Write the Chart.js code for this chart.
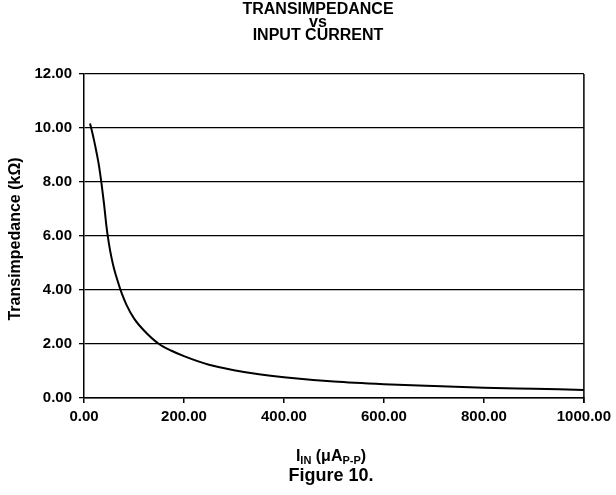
<!DOCTYPE html>
<html><head><meta charset="utf-8">
<script src="https://cdn.jsdelivr.net/npm/chart.js@4.4.1/dist/chart.umd.min.js"></script>
<style>html,body{margin:0;padding:0;background:#fff;} #wrap{width:616px;height:495px;}</style>
</head><body><div id="wrap"><canvas id="c" width="616" height="495"></canvas></div>
<script>
// Data
const inputCurrent = [12, 15, 20, 25, 30, 35, 40, 45, 50, 55, 60, 67, 75, 85, 100, 120, 150, 175, 200, 250, 300, 350, 400, 500, 600, 700, 800, 900, 1000];
const transimpedance = [10.17, 9.95, 9.55, 9.1, 8.6, 7.95, 7.2, 6.35, 5.7, 5.2, 4.8, 4.35, 3.9, 3.45, 2.95, 2.5, 2.0, 1.75, 1.55, 1.23, 1.03, 0.88, 0.77, 0.61, 0.51, 0.44, 0.38, 0.34, 0.30];
const xTickValues = [0, 200, 400, 600, 800, 1000];
const yTickValues = [0, 2, 4, 6, 8, 10, 12];
const titleLines = ['TRANSIMPEDANCE', 'vs', 'INPUT CURRENT'];
const yAxisTitle = 'Transimpedance (kΩ)';
const xAxisTitleParts = [['I', false], ['IN', true], [' (μA', false], ['P-P', true], [')', false]];
const figureCaption = 'Figure 10.';

const FONT = '"Liberation Sans", Arial, sans-serif';

const points = inputCurrent.map((x, i) => ({ x: x, y: transimpedance[i] }));

const decor = {
  id: 'decor',
  afterDraw(chart) {
    const ctx = chart.ctx;
    const a = chart.chartArea;
    ctx.save();
    // right border of plot
    ctx.strokeStyle = '#000';
    ctx.lineWidth = 1.5;
    ctx.beginPath();
    ctx.moveTo(a.right, a.top);
    ctx.lineTo(a.right, a.bottom + 5);
    ctx.stroke();
    ctx.fillStyle = '#000';
    ctx.textAlign = 'center';
    ctx.textBaseline = 'middle';
    // title
    ctx.font = 'bold 16px ' + FONT;
    const tY = [10, 23, 36];
    titleLines.forEach((t, i) => ctx.fillText(t, 318, tY[i]));
    // y axis title
    ctx.save();
    ctx.translate(16, 239);
    ctx.rotate(-Math.PI / 2);
    ctx.font = 'bold 16px ' + FONT;
    ctx.fillText(yAxisTitle, 0, 0);
    ctx.restore();
    // x axis title with subscripts
    const big = 'bold 16px ' + FONT, small = 'bold 11px ' + FONT;
    let total = 0;
    xAxisTitleParts.forEach(([s, sub]) => { ctx.font = sub ? small : big; total += ctx.measureText(s).width; });
    let x = 331 - total / 2;
    ctx.textAlign = 'left';
    ctx.textBaseline = 'alphabetic';
    xAxisTitleParts.forEach(([s, sub]) => {
      ctx.font = sub ? small : big;
      ctx.fillText(s, x, sub ? 464 : 461);
      x += ctx.measureText(s).width;
    });
    ctx.textAlign = 'center';
    ctx.textBaseline = 'middle';
    ctx.font = 'bold 18px ' + FONT;
    ctx.fillText(figureCaption, 331, 476);
    ctx.restore();
  }
};

new Chart(document.getElementById('c'), {
  type: 'line',
  data: {
    datasets: [{
      data: points,
      borderColor: '#000',
      borderWidth: 2,
      pointRadius: 0,
      fill: false,
      cubicInterpolationMode: 'monotone'
    }]
  },
  options: {
    responsive: false,
    devicePixelRatio: 1,
    animation: false,
    layout: { padding: { top: 74, right: 31, left: 0, bottom: 0 } },
    plugins: { legend: { display: false }, title: { display: false }, tooltip: { enabled: false } },
    scales: {
      x: {
        type: 'linear', min: 0, max: 1000,
        afterBuildTicks: s => { s.ticks = xTickValues.map(v => ({ value: v })); },
        afterFit: s => { s.height = 97; },
        ticks: { callback: v => Number(v).toFixed(2), color: '#000', font: { family: FONT, weight: 'bold', size: 15 }, padding: 5, maxRotation: 0 },
        grid: { drawOnChartArea: false, drawTicks: true, tickLength: 5, color: '#000', lineWidth: 1.5 },
        border: { color: '#000', width: 1.5 }
      },
      y: {
        type: 'linear', min: 0, max: 12,
        afterBuildTicks: s => { s.ticks = yTickValues.map(v => ({ value: v })); },
        afterFit: s => { s.width = 84; },
        ticks: { callback: v => Number(v).toFixed(2), color: '#000', font: { family: FONT, weight: 'bold', size: 15 }, padding: 7 },
        grid: { drawOnChartArea: true, drawTicks: true, tickLength: 5, color: '#000', lineWidth: 1.3 },
        border: { color: '#000', width: 1.5 }
      }
    }
  },
  plugins: [decor]
});
</script>
</body></html>
